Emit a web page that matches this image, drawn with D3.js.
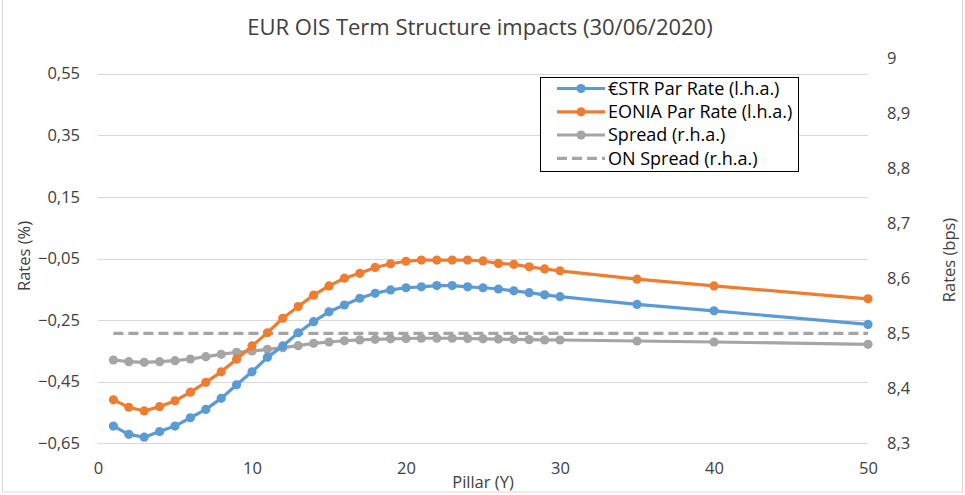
<!DOCTYPE html>
<html>
<head>
<meta charset="utf-8">
<script src="https://cdn.jsdelivr.net/npm/d3@7"></script>
<style>
html,body{margin:0;padding:0;background:#fff;}
svg{display:block;font-family:"Open Sans",sans-serif;}
</style>
</head>
<body>
<svg id="chart" width="965" height="495"></svg>
<script>
const pillars = [1,2,3,4,5,6,7,8,9,10,11,12,13,14,15,16,17,18,19,20,21,22,23,24,25,26,27,28,29,30,35,40,50];
const estr = [-0.594,-0.621,-0.630,-0.612,-0.594,-0.567,-0.540,-0.504,-0.460,-0.418,-0.371,-0.334,-0.291,-0.255,-0.223,-0.201,-0.179,-0.163,-0.152,-0.145,-0.142,-0.138,-0.138,-0.142,-0.145,-0.149,-0.155,-0.161,-0.168,-0.174,-0.199,-0.220,-0.264];
const eonia = [-0.509,-0.533,-0.545,-0.531,-0.512,-0.484,-0.452,-0.418,-0.377,-0.334,-0.291,-0.244,-0.206,-0.169,-0.139,-0.114,-0.098,-0.079,-0.067,-0.059,-0.055,-0.055,-0.055,-0.055,-0.058,-0.066,-0.069,-0.077,-0.084,-0.090,-0.117,-0.139,-0.181];
const spread = [8.4515,8.4484,8.4473,8.4484,8.4502,8.4533,8.4575,8.4618,8.4655,8.4678,8.4709,8.4738,8.4775,8.4818,8.4842,8.4865,8.488,8.489,8.490,8.4905,8.491,8.491,8.491,8.4905,8.490,8.4895,8.489,8.4885,8.488,8.4878,8.486,8.4842,8.480];
const onSpread = pillars.map(() => 8.5);
const xTicks = [0,10,20,30,40,50];
const leftTicks = [-0.65,-0.45,-0.25,-0.05,0.15,0.35,0.55];
const rightTicks = [8.3,8.4,8.5,8.6,8.7,8.8,8.9,9.0];
const seriesNames = ["€STR Par Rate (l.h.a.)","EONIA Par Rate (l.h.a.)","Spread (r.h.a.)","ON Spread (r.h.a.)"];
const colors = ["#5B9BD5","#ED7D31","#A5A5A5","#A5A5A5"];

const FONT = "'Open Sans',sans-serif";
const svg = d3.select("#chart");
const pLeft = 98, pRight = 868, pTop = 58.3, pBottom = 443.3;

const x = d3.scaleLinear().domain([0,50]).range([pLeft,pRight]);
const yL = d3.scaleLinear().domain([-0.65,0.6]).range([pBottom,pTop]);
const yR = d3.scaleLinear().domain([8.3,9.0]).range([pBottom,pTop]);

// outer border
svg.append("rect").attr("x",2.5).attr("y",-5).attr("width",960).attr("height",497)
  .attr("fill","none").attr("stroke","#d9d9d9").attr("stroke-width",1);

// gridlines
svg.append("g").selectAll("line").data(leftTicks).join("line")
  .attr("x1",pLeft).attr("x2",pRight)
  .attr("y1",d=>Math.round(yL(d))+0.5).attr("y2",d=>Math.round(yL(d))+0.5)
  .attr("stroke","#d9d9d9").attr("stroke-width",1);

const fmt = d3.format(".2f");
const comma = s => s.replace(".",",");
const TICK = 16.5;

// left axis
const gL = svg.append("g").attr("transform",`translate(${pLeft-15},0)`)
  .call(d3.axisLeft(yL).tickValues(leftTicks).tickSize(0).tickFormat(d=>comma(fmt(d))));
gL.select(".domain").remove();
gL.selectAll("text").attr("font-family",FONT).attr("font-size",TICK).attr("fill","#404040");

// right axis
const gR = svg.append("g").attr("transform",`translate(${pRight+16},0)`)
  .call(d3.axisRight(yR).tickValues(rightTicks).tickSize(0).tickFormat(d=>comma(d3.format("~g")(d))));
gR.select(".domain").remove();
gR.selectAll("text").attr("font-family",FONT).attr("font-size",TICK).attr("fill","#404040");

// bottom axis
const gB = svg.append("g").attr("transform",`translate(0,${pBottom+16})`)
  .call(d3.axisBottom(x).tickValues(xTicks).tickSize(0).tickFormat(d3.format("d")));
gB.select(".domain").remove();
gB.selectAll("text").attr("font-family",FONT).attr("font-size",TICK).attr("fill","#404040");

// title and axis titles
svg.append("text").attr("x",480).attr("y",35).attr("text-anchor","middle")
  .attr("font-family",FONT).attr("font-size",22).attr("fill","#404040").text("EUR OIS Term Structure impacts (30/06/2020)");
svg.append("text").attr("x",483).attr("y",488).attr("text-anchor","middle")
  .attr("font-family",FONT).attr("font-size",16.5).attr("fill","#404040").text("Pillar (Y)");
svg.append("text").attr("transform","translate(30,256) rotate(-90)").attr("text-anchor","middle")
  .attr("font-family",FONT).attr("font-size",16.5).attr("fill","#404040").text("Rates (%)");
svg.append("text").attr("transform","translate(955,260) rotate(-90)").attr("text-anchor","middle")
  .attr("font-family",FONT).attr("font-size",16.5).attr("fill","#404040").text("Rates (bps)");

// series
const data = [
  {vals:estr, y:yL, color:colors[0], markers:true, dash:null},
  {vals:eonia, y:yL, color:colors[1], markers:true, dash:null},
  {vals:spread, y:yR, color:colors[2], markers:true, dash:null},
  {vals:onSpread, y:yR, color:colors[3], markers:false, dash:"10,5"}
];
const order = [3,2,0,1];
order.forEach(i => {
  const s = data[i];
  const pts = pillars.map((p,k)=>[p,s.vals[k]]);
  const line = d3.line().x(d=>x(d[0])).y(d=>s.y(d[1]));
  svg.append("path").datum(pts).attr("d",line).attr("fill","none")
    .attr("stroke",s.color).attr("stroke-width",3.2)
    .attr("stroke-dasharray",s.dash).attr("stroke-linejoin","round");
  if (s.markers) {
    svg.append("g").selectAll("circle").data(pts).join("circle")
      .attr("cx",d=>x(d[0])).attr("cy",d=>s.y(d[1])).attr("r",4.6).attr("fill",s.color);
  }
});

// legend
const lg = svg.append("g");
lg.append("rect").attr("x",540.5).attr("y",77.5).attr("width",258).attr("height",94)
  .attr("fill","#fff").attr("stroke","#000").attr("stroke-width",1);
const rowY = [88.5,111.8,135,158.3];
seriesNames.forEach((name,i)=>{
  const g = lg.append("g");
  g.append("line").attr("x1",557).attr("x2",605).attr("y1",rowY[i]).attr("y2",rowY[i])
    .attr("stroke",colors[i]).attr("stroke-width",3.2).attr("stroke-dasharray",i===3?"10,5":null);
  if (i<3) g.append("circle").attr("cx",581).attr("cy",rowY[i]).attr("r",4.6).attr("fill",colors[i]);
  g.append("text").attr("x",608).attr("y",rowY[i]).attr("dy","0.35em")
    .attr("font-family",FONT).attr("font-size",18).attr("fill","#000").text(name);
});
</script>
</body>
</html>
